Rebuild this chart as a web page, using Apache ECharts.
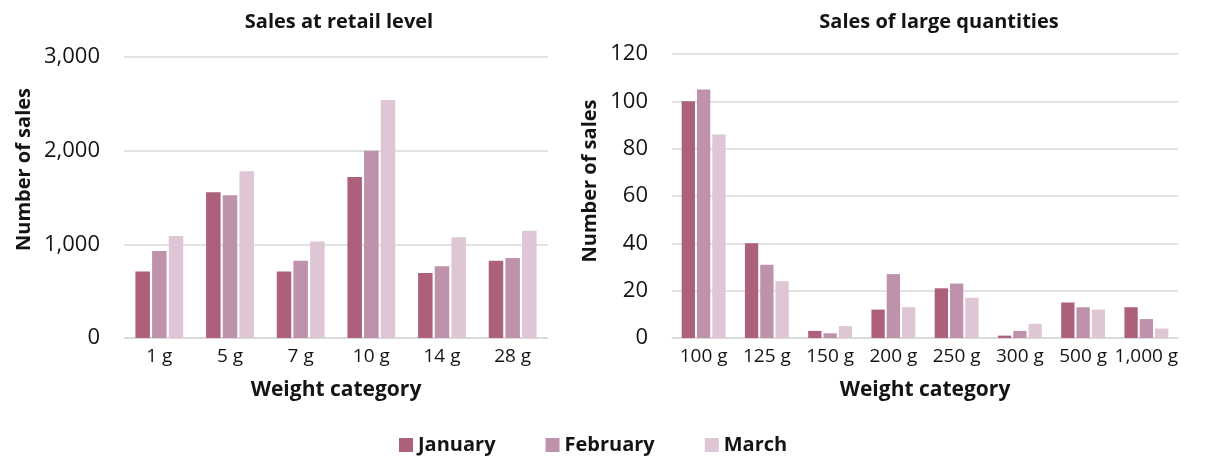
<!DOCTYPE html>
<html>
<head>
<meta charset="utf-8">
<script src="https://cdn.jsdelivr.net/npm/echarts@6/dist/echarts.min.js"></script>
<style>
  html, body { margin: 0; padding: 0; background: #ffffff; }
  #chart { width: 1209px; height: 457px; }
</style>
</head>
<body>
<div id="chart"></div>
<script>
// Retail-level sales by weight category
const retailCategories = ['1 g', '5 g', '7 g', '10 g', '14 g', '28 g'];
const retailJanuary  = [710, 1555, 710, 1720, 695, 825];
const retailFebruary = [930, 1525, 825, 2000, 765, 855];
const retailMarch    = [1090, 1780, 1030, 2540, 1075, 1145];

// Large-quantity sales by weight category
const bulkCategories = ['100 g', '125 g', '150 g', '200 g', '250 g', '300 g', '500 g', '1,000 g'];
const bulkJanuary  = [100, 40, 3, 12, 21, 1, 15, 13];
const bulkFebruary = [105, 31, 2, 27, 23, 3, 13, 8];
const bulkMarch    = [86, 24, 5, 13, 17, 6, 12, 4];

const seriesNames = ['January', 'February', 'March'];
const retailTicks = { min: 0, max: 3000, interval: 1000 };
const bulkTicks = { min: 0, max: 120, interval: 20 };

const colors = ['#ad607c', '#be92aa', '#dec6d4'];
const FONT = 'Open Sans';
const TEXT = '#141414';
const GRID_LINE = '#d9d9d9';

const chart = echarts.init(document.getElementById('chart'), null, { renderer: 'canvas' });

function valueAxis(idx, ticks, namePad, nameGap) {
  return {
    type: 'value',
    gridIndex: idx,
    min: ticks.min,
    max: ticks.max,
    interval: ticks.interval,
    name: 'Number of sales',
    nameLocation: 'middle',
    nameGap: nameGap,
    nameTextStyle: { fontFamily: FONT, fontWeight: 'bold', fontSize: 20, color: TEXT, padding: [0, 0, 0, namePad] },
    axisLine: { show: false },
    axisTick: { show: false },
    axisLabel: {
      fontFamily: FONT, fontSize: 22, color: TEXT, margin: 24,
      formatter: v => v.toLocaleString('en-US')
    },
    splitLine: { lineStyle: { color: GRID_LINE, width: 1.5 } }
  };
}

function categoryAxis(idx, cats) {
  return {
    type: 'category',
    gridIndex: idx,
    data: cats,
    name: 'Weight category',
    nameLocation: 'middle',
    nameGap: 42,
    nameTextStyle: { fontFamily: FONT, fontWeight: 'bold', fontSize: 21, color: TEXT },
    axisLine: { show: true, lineStyle: { color: GRID_LINE, width: 1.5 } },
    axisTick: { show: false },
    axisLabel: { fontFamily: FONT, fontSize: 19, color: TEXT, margin: 9, interval: 0 }
  };
}

function barSeries(name, data, axisIdx, color, width) {
  return {
    type: 'bar',
    name: name,
    data: data,
    xAxisIndex: axisIdx,
    yAxisIndex: axisIdx,
    barWidth: width,
    barGap: '15%',
    itemStyle: { color: color },
    emphasis: { disabled: true }
  };
}

chart.setOption({
  animation: false,
  backgroundColor: '#ffffff',
  title: [
    {
      text: 'Sales at retail level',
      left: 334, top: 7, textAlign: 'center',
      textStyle: { fontFamily: FONT, fontWeight: 'bold', fontSize: 20, color: TEXT }
    },
    {
      text: 'Sales of large quantities',
      left: 934, top: 7, textAlign: 'center',
      textStyle: { fontFamily: FONT, fontWeight: 'bold', fontSize: 20, color: TEXT }
    }
  ],
  legend: {
    data: seriesNames,
    left: 394,
    top: 430,
    itemWidth: 14,
    itemHeight: 14,
    itemGap: 50,
    icon: 'rect',
    textStyle: { fontFamily: FONT, fontWeight: 'bold', fontSize: 20, color: TEXT }
  },
  grid: [
    { left: 124, right: 661, top: 57, bottom: 119 },
    { left: 672, right: 31, top: 54, bottom: 119 }
  ],
  xAxis: [categoryAxis(0, retailCategories), categoryAxis(1, bulkCategories)],
  yAxis: [valueAxis(0, retailTicks, 56, 90), valueAxis(1, bulkTicks, 30, 72)],
  series: [
    barSeries(seriesNames[0], retailJanuary, 0, colors[0], 14.5),
    barSeries(seriesNames[1], retailFebruary, 0, colors[1], 14.5),
    barSeries(seriesNames[2], retailMarch, 0, colors[2], 14.5),
    barSeries(seriesNames[0], bulkJanuary, 1, colors[0], 13.3),
    barSeries(seriesNames[1], bulkFebruary, 1, colors[1], 13.3),
    barSeries(seriesNames[2], bulkMarch, 1, colors[2], 13.3)
  ]
});
</script>
</body>
</html>
